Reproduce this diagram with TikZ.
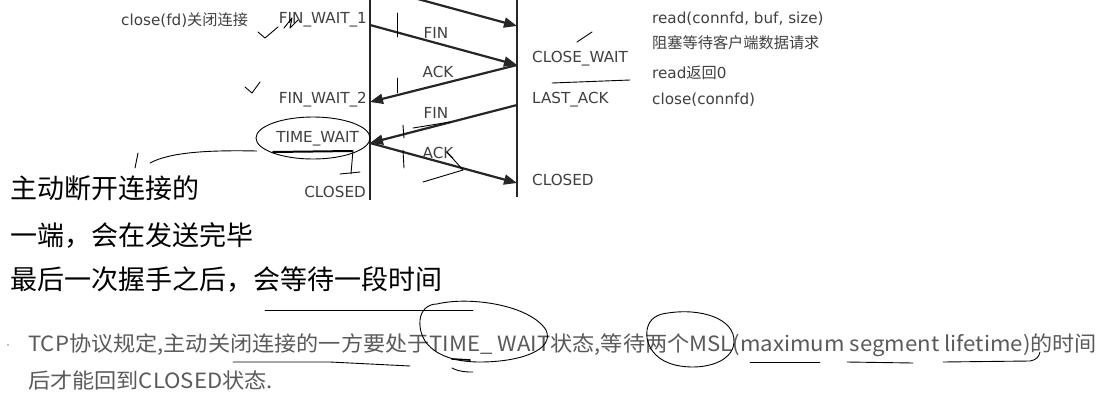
\documentclass[tikz,border=0pt]{standalone}
\usepackage{fontspec}
\usepackage{graphicx}
\setmainfont{DejaVu Sans}
\newfontfamily\cjk{Noto Sans CJK SC}
\usetikzlibrary{arrows.meta}
\definecolor{lbl}{HTML}{404040}
\definecolor{btxt}{HTML}{5A5A5A}
\definecolor{ln}{HTML}{262626}
\tikzset{
  x=1pt,y=-1pt,
  lifeline/.style={draw=ln,line width=2.6pt},
  msg/.style={draw=ln,line width=2.2pt,-{Triangle[length=13pt,width=10pt]}},
  lab/.style={inner sep=0pt,text=lbl,font=\fontsize{15.2}{17}\selectfont},
  biglab/.style={inner sep=0pt,anchor=west,text=black,font=\cjk\fontsize{27}{31}\selectfont},
  note/.style={inner sep=0pt,anchor=west,text=btxt,font=\cjk\fontsize{21}{24}\selectfont},
  hand/.style={draw=black,line width=0.9pt,line cap=round,line join=round},
}
\begin{document}
\begin{tikzpicture}
\useasboundingbox (0,0) rectangle (1113,407);
\fill[white] (0,0) rectangle (1113,407);
\clip (0,0) rectangle (1113,407);
% lifelines
\coordinate (Ltop) at (370,-20);
\coordinate (Lbot) at (370,200);
\coordinate (Rtop) at (517,-20);
\coordinate (Rbot) at (517,197);
\draw[lifeline] (Ltop) -- (Lbot);
\draw[lifeline] (Rtop) -- (Rbot);
% message end points
\coordinate (L0) at (370,-14);
\coordinate (R0) at (517,26);
\coordinate (L1) at (370,25);
\coordinate (R1) at (517,65);
\coordinate (L2) at (370,102);
\coordinate (R2) at (517,105);
\coordinate (L3) at (370,143);
\coordinate (R3) at (517,183);
\draw[msg] (L0) -- (R0);
\draw[msg] (L1) -- (R1);
\draw[msg] (R1) -- (L2);
\draw[msg] (R2) -- (L3);
\draw[msg] (L3) -- (R3);
% message labels
\node[lab] (fin1) at (436,33) {FIN};
\node[lab] (ack1) at (438,72) {ACK};
\node[lab] (fin2) at (436,113) {FIN};
\node[lab] (ack2) at (438,153) {ACK};
% left states
\node[lab,anchor=east] (fw1) at (367,20) {FIN\_WAIT\_1};
\node[lab,anchor=east] (fw2) at (367,100) {FIN\_WAIT\_2};
\node[lab,anchor=east] (tw) at (359,139) {TIME\_WAIT};
\node[lab,anchor=east] (lcl) at (366,192) {CLOSED};
\node[lab,anchor=west] (cfd) at (121,20) {close(fd){\cjk 关闭连接}};
% right states
\node[lab,anchor=west] (cw) at (532,59) {CLOSE\_WAIT};
\node[lab,anchor=west] (la) at (532,100) {LAST\_ACK};
\node[lab,anchor=west] (rcl) at (532,180) {CLOSED};
\node[lab,anchor=west] (rd) at (652,19) {read(connfd, buf, size)};
\node[lab,anchor=west] (blk) at (652,43) {\cjk 阻塞等待客户端数据请求};
\node[lab,anchor=west] (rd0) at (652,73) {read{\cjk 返回}0};
\node[lab,anchor=west] (ccf) at (652,100) {close(connfd)};
% big text
\node[biglab] (b1) at (10,188) {主动断开连接的};
\node[biglab] (b2) at (10,235) {一端，会在发送完毕};
\node[biglab] (b3) at (10,280) {最后一次握手之后，会等待一段时间};
% bottom note
\fill[btxt!50] (8,345) circle (1.2);
\node[note] (n1) at (28,345) {\scalebox{1.055}[1]{TCP协议规定,主动关闭连接的一方要处于TIME\_ WAIT状态,等待两个MSL(maximum segment lifetime)的时间}};
\node[note] (n2) at (28,380) {\scalebox{1.055}[1]{后才能回到CLOSED状态.}};
% hand-drawn marks
\draw[hand] (313,138) ellipse [x radius=57, y radius=21];
\draw[hand] (257,151) .. controls (210,150) and (170,152) .. (150,163);
\draw[hand] (138,153) -- (135,168);
\draw[hand,line width=2pt] (273,152) -- (352,151);
\draw[hand] (353,150) -- (351,174);
\draw[hand] (340,174) -- (360,172);
\draw[hand] (258,32) -- (265,38) -- (278,27);
\draw[hand] (284,28) -- (292,18) -- (290,28) -- (298,20);
\draw[hand] (245,87) -- (252,93) -- (260,82);
\draw[hand] (397,13) -- (397,37);
\draw[hand] (397,78) -- (397,93);
\draw[hand] (403,125) -- (404,138);
\draw[hand] (403,150) -- (404,168);
\draw[hand] (413,128) -- (450,122);
\draw[hand] (447,152) -- (463,170);
\draw[hand] (423,182) -- (463,170);
\draw[hand] (577,42) -- (592,32);
\draw[hand] (552,83) -- (630,80);
% bottom annotations
\draw[hand] (265,310) -- (473,310);
\draw[hand] (233,362) -- (330,362) -- (410,366);
\draw[hand] (437,304) .. controls (470,296) and (530,305) .. (546,330)
  .. controls (555,350) and (520,362) .. (480,362)
  .. controls (440,362) and (418,345) .. (420,320)
  .. controls (421,310) and (428,304) .. (437,304);
\draw[hand] (452,368) .. controls (460,372) and (466,372) .. (473,372);
\draw[hand,line width=1.6pt] (452,359) -- (470,360);
\draw[hand] (668,313) .. controls (700,308) and (735,318) .. (734,342)
  .. controls (733,362) and (705,370) .. (680,366)
  .. controls (655,362) and (645,345) .. (647,330)
  .. controls (649,318) and (658,314) .. (668,313);
\draw[hand] (750,362) -- (820,362);
\draw[hand] (847,362) -- (913,363);
\draw[hand] (943,362) -- (1030,361) .. controls (1036,360) and (1039,357) .. (1040,352);
\end{tikzpicture}
\end{document}
